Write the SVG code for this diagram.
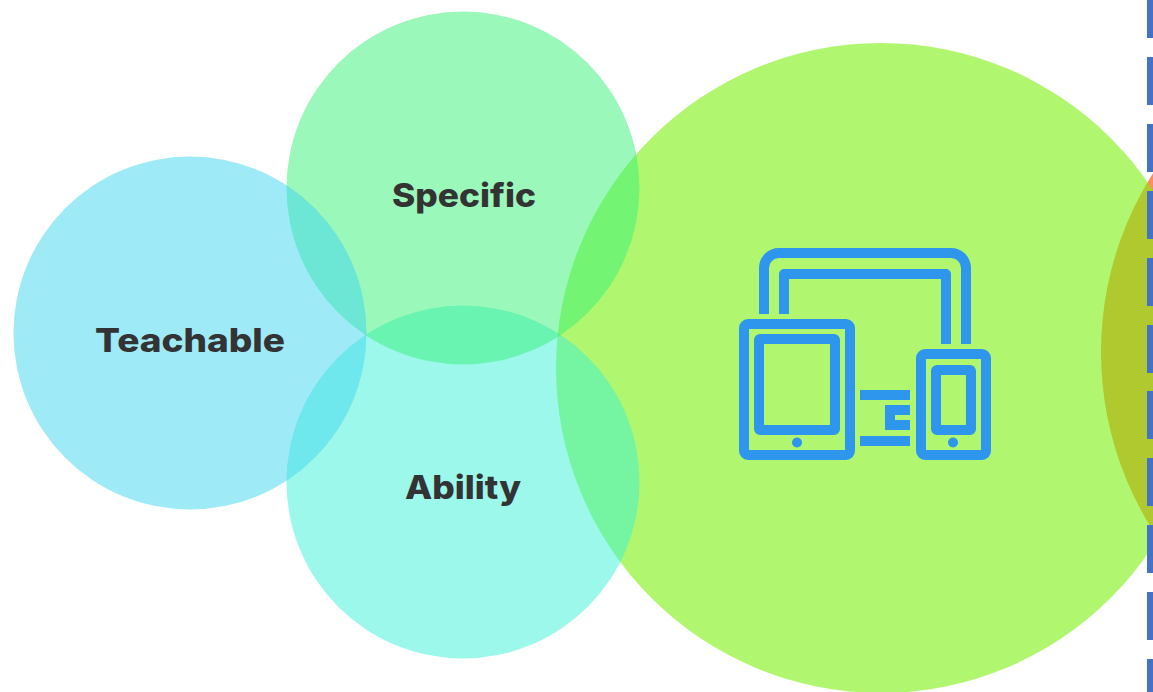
<svg xmlns="http://www.w3.org/2000/svg" width="1153" height="692" viewBox="0 0 1153 692">
<style>
.lbl{font-family:"Inter","Liberation Sans",sans-serif;font-weight:800;font-size:33px;fill:#333333}
.ln{fill:none;stroke:#2f96ee;stroke-width:10;stroke-linejoin:round}
.ic{fill:#2f96ee}
.dash{fill:#4472c4}
</style>
<rect width="1153" height="692" fill="#ffffff"/>
<g id="node-orange"><circle cx="1434" cy="352" r="333" fill="#ff8c5c"/></g>
<g id="node-devices-circle"><circle cx="881" cy="368" r="325" fill="#7bf10f" fill-opacity="0.6"/></g>
<g id="node-ability">
<circle cx="463" cy="482" r="176.500" fill="#39f1d5" fill-opacity="0.5"/>
<text class="lbl" x="405" y="499" textLength="116" lengthAdjust="spacingAndGlyphs">Ability</text>
</g>
<g id="node-specific">
<circle cx="463" cy="188" r="176.500" fill="#35f177" fill-opacity="0.5"/>
<text class="lbl" x="392" y="207" textLength="144" lengthAdjust="spacingAndGlyphs">Specific</text>
</g>
<g id="node-teachable">
<circle cx="190" cy="333" r="176.500" fill="#3fd5ef" fill-opacity="0.5"/>
<text class="lbl" x="95" y="352" textLength="190" lengthAdjust="spacingAndGlyphs">Teachable</text>
</g>
<g id="node-devices-icon">
<path class="ln" d="M764 314V268a15 15 0 0 1 15-15H951a15 15 0 0 1 15 15V344" stroke-linejoin="miter"/>
<path class="ln" d="M784 314V274H946V344"/>
<rect class="ln" x="744" y="324" width="106" height="131" rx="4"/>
<rect class="ln" x="759" y="339" width="76" height="91" rx="1"/>
<circle class="ic" cx="797" cy="442.500" r="5"/>
<rect class="ln" x="921" y="354" width="65" height="101" rx="4"/>
<rect class="ln" x="936" y="370" width="35" height="60" rx="1"/>
<circle class="ic" cx="953" cy="442.500" r="5"/>
<rect class="ic" x="860" y="390" width="50" height="10"/>
<rect class="ic" x="860" y="436" width="50" height="10"/>
<path class="ic" d="M885 405H910V415H895V420H910V430H885Z"/>
</g>
<g id="connectors">
<rect class="dash" x="1147" y="-10" width="6" height="48"/>
<rect class="dash" x="1147" y="57" width="6" height="48"/>
<rect class="dash" x="1147" y="124" width="6" height="48"/>
<rect class="dash" x="1147" y="191" width="6" height="48"/>
<rect class="dash" x="1147" y="258" width="6" height="48"/>
<rect class="dash" x="1147" y="325" width="6" height="48"/>
<rect class="dash" x="1147" y="391" width="6" height="48"/>
<rect class="dash" x="1147" y="458" width="6" height="48"/>
<rect class="dash" x="1147" y="525" width="6" height="48"/>
<rect class="dash" x="1147" y="592" width="6" height="48"/>
<rect class="dash" x="1147" y="659" width="6" height="48"/>
</g>
</svg>
